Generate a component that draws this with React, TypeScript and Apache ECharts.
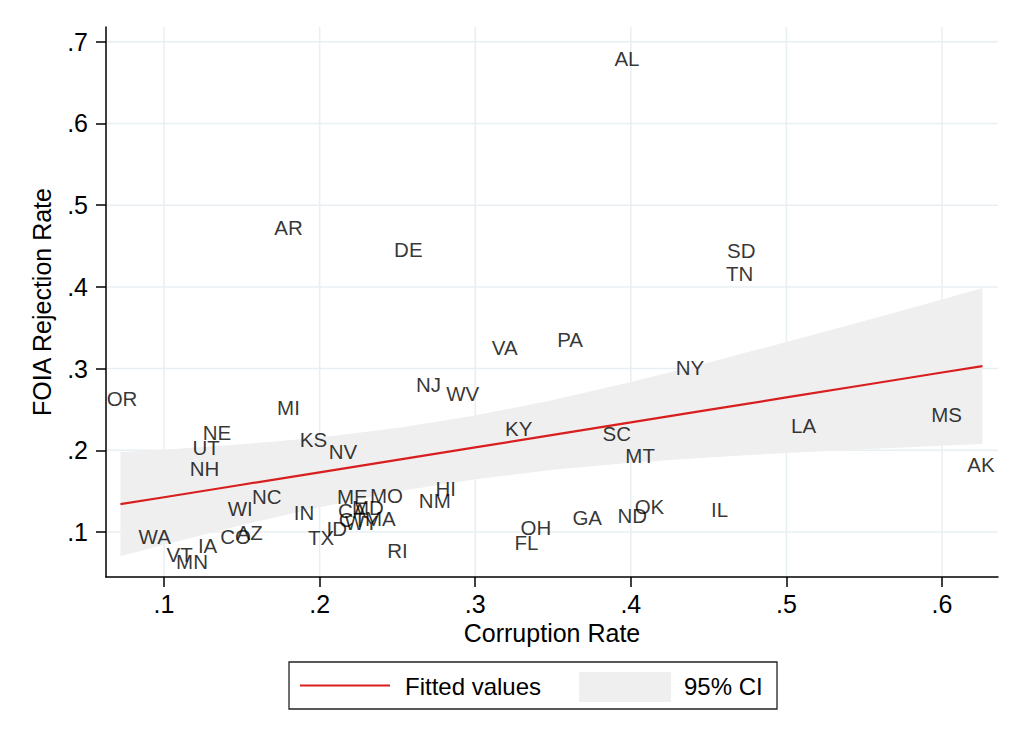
import React, { useEffect, useRef } from "react";
import * as echarts from "echarts";

const states = [
  "AL", "AR", "DE", "SD", "TN", "VA", "PA", "NY", "NJ", "WV",
  "OR", "MI", "MS", "LA", "KY", "NE", "SC", "KS", "UT", "NV",
  "MT", "NH", "AK", "HI", "NC", "MO", "ME", "NM", "WI", "OK",
  "IL", "CA", "MD", "IN", "ND", "GA", "OH", "FL", "RI", "TX",
  "ID", "CT", "WY", "MA", "WA", "VT", "MN", "IA", "CO", "AZ",
];
const corruption = [
  0.3975, 0.180, 0.257, 0.471, 0.470, 0.319, 0.361, 0.438, 0.270, 0.292,
  0.073, 0.180, 0.603, 0.511, 0.328, 0.134, 0.391, 0.196, 0.127, 0.215,
  0.406, 0.126, 0.625, 0.281, 0.166, 0.243, 0.221, 0.274, 0.149, 0.412,
  0.457, 0.221, 0.231, 0.190, 0.401, 0.372, 0.339, 0.333, 0.250, 0.201,
  0.211, 0.221, 0.227, 0.239, 0.094, 0.110, 0.118, 0.128, 0.146, 0.155,
];
const rejection = [
  0.679, 0.473, 0.446, 0.444, 0.416, 0.326, 0.336, 0.301, 0.281, 0.270,
  0.263, 0.252, 0.244, 0.230, 0.227, 0.222, 0.220, 0.213, 0.204, 0.198,
  0.194, 0.178, 0.183, 0.153, 0.143, 0.145, 0.143, 0.139, 0.129, 0.131,
  0.128, 0.126, 0.130, 0.124, 0.120, 0.118, 0.106, 0.087, 0.077, 0.093,
  0.104, 0.115, 0.112, 0.117, 0.094, 0.073, 0.064, 0.084, 0.094, 0.099,
];

const fitX = [0.072, 0.1, 0.15, 0.2, 0.25, 0.3, 0.35, 0.4, 0.45, 0.5, 0.55, 0.6, 0.626];
const fitY = [0.1341, 0.1426, 0.1579, 0.1731, 0.1884, 0.2036, 0.2189, 0.2341, 0.2494, 0.2647, 0.2799, 0.2952, 0.3031];
const ciLower = [0.0705, 0.0845, 0.1085, 0.1304, 0.1495, 0.1647, 0.1762, 0.1847, 0.1913, 0.1968, 0.2014, 0.2057, 0.2077];
const ciUpper = [0.1977, 0.2007, 0.2073, 0.2158, 0.2273, 0.2425, 0.2616, 0.2835, 0.3075, 0.3326, 0.3584, 0.3847, 0.3985];

const xTicks = [0.1, 0.2, 0.3, 0.4, 0.5, 0.6];
const yTicks = [0.1, 0.2, 0.3, 0.4, 0.5, 0.6, 0.7];

const xMin = 0.0627;
const xMax = 0.636;
const yMin = 0.045;
const yMax = 0.718;

const FONT = "'Liberation Sans', Arial, sans-serif";
const fmt = (v: number) => v.toFixed(1).replace(/^0/, "");

export default function App() {
  const ref = useRef<HTMLDivElement>(null);
  useEffect(() => {
    if (!ref.current) return;
    const chart = echarts.init(ref.current, undefined, { renderer: "svg" });
    const option: any = {
      animation: false,
      backgroundColor: "#ffffff",
      textStyle: { fontFamily: FONT },
      grid: { left: 106, right: 26, top: 27, bottom: 168, containLabel: false },
      xAxis: {
        type: "value",
        min: xMin,
        max: xMax,
        name: "Corruption Rate",
        nameLocation: "middle",
        nameGap: 41,
        nameTextStyle: { fontSize: 25, color: "#000", fontFamily: FONT },
        axisLine: { show: true, lineStyle: { color: "#000", width: 1.5 } },
        axisTick: { show: true, length: 10, customValues: xTicks, lineStyle: { color: "#000", width: 1.5 } },
        axisLabel: { customValues: xTicks, formatter: fmt, fontSize: 25, color: "#000", margin: 14, fontFamily: FONT },
        splitLine: { show: false },
      },
      yAxis: {
        type: "value",
        min: yMin,
        max: yMax,
        name: "FOIA Rejection Rate",
        nameLocation: "middle",
        nameGap: 52,
        nameTextStyle: { fontSize: 25, color: "#000", fontFamily: FONT },
        axisLine: { show: true, lineStyle: { color: "#000", width: 1.5 } },
        axisTick: { show: true, length: 10, customValues: yTicks, lineStyle: { color: "#000", width: 1.5 } },
        axisLabel: { customValues: yTicks, formatter: fmt, fontSize: 25, color: "#000", margin: 18, fontFamily: FONT },
        splitLine: { show: false },
      },
      series: [
        {
          type: "custom",
          name: "grid",
          z: 0,
          silent: true,
          clip: false,
          data: [[0.3, 0.3]],
          renderItem: (_p: any, api: any) => {
            const children: any[] = [];
            xTicks.forEach((t) => {
              const a = api.coord([t, yMin]);
              const b = api.coord([t, yMax]);
              children.push({
                type: "line",
                shape: { x1: a[0], y1: a[1], x2: b[0], y2: b[1] },
                style: { stroke: "#e8eff2", lineWidth: 1.5 },
              });
            });
            yTicks.forEach((t) => {
              const a = api.coord([xMin, t]);
              const b = api.coord([xMax, t]);
              children.push({
                type: "line",
                shape: { x1: a[0], y1: a[1], x2: b[0], y2: b[1] },
                style: { stroke: "#e8eff2", lineWidth: 1.5 },
              });
            });
            return { type: "group", children };
          },
        },
        {
          type: "custom",
          name: "95% CI",
          z: 1,
          silent: true,
          data: [[0.3, 0.2]],
          renderItem: (_p: any, api: any) => {
            const pts: number[][] = [];
            for (let i = 0; i < fitX.length; i++) pts.push(api.coord([fitX[i], ciUpper[i]]));
            for (let i = fitX.length - 1; i >= 0; i--) pts.push(api.coord([fitX[i], ciLower[i]]));
            return { type: "polygon", shape: { points: pts }, style: { fill: "#efefef" } };
          },
        },
        {
          type: "line",
          name: "Fitted values",
          z: 2,
          showSymbol: false,
          symbol: "none",
          data: fitX.map((x, i) => [x, fitY[i]]),
          lineStyle: { color: "#d81e1e", width: 2.2 },
        },
        {
          type: "scatter",
          name: "States",
          z: 3,
          symbol: "circle",
          symbolSize: 1,
          itemStyle: { color: "transparent" },
          data: states.map((s, i) => ({ name: s, value: [corruption[i], rejection[i]] })),
          label: {
            show: true,
            position: "inside",
            formatter: "{b}",
            fontSize: 20.5,
            color: "#000",
            fontFamily: FONT,
          },
        },
      ],
      graphic: [
        {
          type: "rect",
          shape: { x: 289, y: 662, width: 488, height: 47 },
          style: { fill: "#fff", stroke: "#222", lineWidth: 1.3 },
        },
        {
          type: "line",
          shape: { x1: 300, y1: 685.5, x2: 390, y2: 685.5 },
          style: { stroke: "#d81e1e", lineWidth: 2.2 },
        },
        {
          type: "text",
          x: 405,
          y: 686,
          style: { text: "Fitted values", fontSize: 24, fill: "#000", fontFamily: FONT, verticalAlign: "middle", align: "left" },
        },
        {
          type: "rect",
          shape: { x: 579, y: 672, width: 92, height: 30 },
          style: { fill: "#efefef" },
        },
        {
          type: "text",
          x: 684,
          y: 686,
          style: { text: "95% CI", fontSize: 24, fill: "#000", fontFamily: FONT, verticalAlign: "middle", align: "left" },
        },
      ],
    };
    chart.setOption(option);
    return () => chart.dispose();
  }, []);
  return (
    <div
      ref={ref}
      style={{ position: "fixed", left: 0, top: 0, width: 1024, height: 745, background: "#fff" }}
    />
  );
}
